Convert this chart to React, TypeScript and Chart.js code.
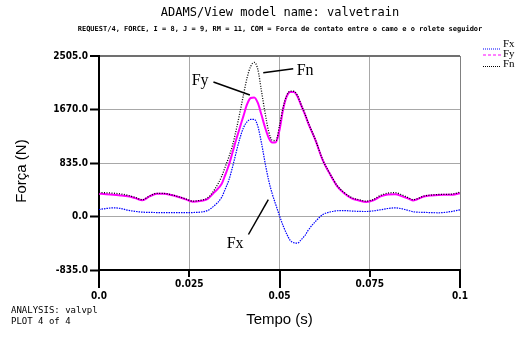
import React, { useEffect, useRef } from 'react';
import { Chart, registerables } from 'chart.js';
Chart.register(...registerables);

const times = [
  0.000, 0.002, 0.004, 0.006, 0.008, 0.010, 0.012, 0.014, 0.016, 0.018, 0.020, 0.022, 0.024, 0.026, 0.028, 0.030, 0.032, 0.034,
  0.035, 0.036, 0.037, 0.038, 0.039, 0.040, 0.041, 0.042, 0.043, 0.044, 0.045, 0.046, 0.047, 0.048, 0.049, 0.050, 0.051, 0.052, 0.053, 0.054, 0.055, 0.056, 0.057, 0.058,
  0.060, 0.062, 0.064, 0.066, 0.068, 0.070, 0.072, 0.074, 0.076, 0.078, 0.080, 0.082, 0.084, 0.086, 0.087, 0.088, 0.090, 0.092, 0.094, 0.096, 0.098, 0.100,
];

const fxValues = [
  109, 125, 135, 125, 98, 80, 68, 64, 62, 62, 62, 62, 60, 62, 68, 92, 172, 302,
  433, 573, 775, 1002, 1215, 1383, 1478, 1516, 1516, 1409, 1150, 840, 563, 351, 180, 12, -144, -273, -375, -410, -415, -362, -300, -211,
  -75, 30, 70, 90, 92, 85, 80, 78, 88, 105, 125, 135, 120, 90, 75, 68, 65, 60, 58, 65, 82, 105,
];

const fyValues = [
  356, 348, 338, 329, 315, 287, 253, 313, 357, 355, 334, 304, 268, 232, 243, 270, 383, 510,
  655, 807, 1002, 1201, 1385, 1566, 1749, 1850, 1858, 1772, 1587, 1390, 1229, 1155, 1160, 1348, 1672, 1875, 1945, 1945, 1872, 1735, 1600, 1450,
  1185, 875, 660, 470, 358, 282, 250, 227, 251, 313, 342, 347, 314, 272, 251, 266, 311, 329, 337, 338, 341, 364,
];

const fnValues = [
  372, 370, 364, 352, 330, 298, 262, 320, 362, 360, 340, 310, 275, 240, 252, 286, 420, 629,
  781, 932, 1113, 1349, 1613, 1892, 2160, 2341, 2405, 2295, 1960, 1620, 1327, 1190, 1185, 1417, 1702, 1890, 1958, 1955, 1885, 1745, 1610, 1460,
  1190, 880, 666, 480, 370, 295, 262, 240, 265, 330, 365, 372, 335, 285, 262, 275, 318, 335, 343, 345, 352, 379,
];

const yMin = -835;
const yMax = 2505;
const yStep = 835;
const xTickLabels = ['0.0', '0.025', '0.05', '0.075', '0.1'];
const seriesNames = ['Fx', 'Fy', 'Fn'];

const titleText = 'ADAMS/View model name: valvetrain';
const subtitleText = 'REQUEST/4, FORCE, I = 8, J = 9, RM = 11, COM = Forca de contato entre o camo e o rolete seguidor';
const footerLines = ['ANALYSIS: valvpl', 'PLOT 4 of 4'];
const xTitle = 'Tempo (s)';
const yTitle = 'Força (N)';

// annotation labels placed in data coordinates
const annotations = [
  { text: 'Fy', tx: 0.0280, ty: 2123, x1: 0.0317, y1: 2099, x2: 0.0418, y2: 1896 },
  { text: 'Fn', tx: 0.0571, ty: 2279, x1: 0.0455, y1: 2243, x2: 0.0538, y2: 2305 },
  { text: 'Fx', tx: 0.0377, ty: -421, x1: 0.0414, y1: -281, x2: 0.0469, y2: 265 },
];

const tickFont = { family: '"DejaVu Sans Condensed", "DejaVu Sans", sans-serif', size: 10, weight: 'bold' as const };

const overlayPlugin = {
  id: 'overlay',
  afterDraw(chart: any) {
    const ctx = chart.ctx as CanvasRenderingContext2D;
    const xs = chart.scales.x;
    const ys = chart.scales.y;
    const area = chart.chartArea;
    ctx.save();

    // x tick marks (alternating lengths)
    ctx.strokeStyle = '#000';
    ctx.lineWidth = 2;
    xs.ticks.forEach((t: any, i: number) => {
      const px = Math.round(xs.getPixelForValue(t.value));
      const len = i % 2 === 0 ? 18 : 7;
      ctx.beginPath();
      ctx.moveTo(px, area.bottom);
      ctx.lineTo(px, area.bottom + len);
      ctx.stroke();
    });

    ctx.fillStyle = '#000';
    // title
    ctx.textAlign = 'center';
    ctx.textBaseline = 'middle';
    ctx.font = '12px "DejaVu Sans Mono", monospace';
    ctx.fillText(titleText, 280, 13);
    ctx.font = 'bold 7px "DejaVu Sans Mono", monospace';
    ctx.fillText(subtitleText, 280, 29.5);

    // footer
    ctx.textAlign = 'left';
    ctx.font = '9px "DejaVu Sans Mono", monospace';
    footerLines.forEach((l, i) => ctx.fillText(l, 11, 311 + i * 11));

    // axis titles
    ctx.font = '15px "Liberation Sans", Arial, sans-serif';
    ctx.textAlign = 'center';
    ctx.fillText(xTitle, (area.left + area.right) / 2, 320);
    ctx.save();
    ctx.translate(22, 171);
    ctx.rotate(-Math.PI / 2);
    ctx.fillText(yTitle, 0, 0);
    ctx.restore();

    // legend
    const ds = chart.data.datasets;
    const legendY = [[44, 49], [54.5, 55], [64.5, 66.5]];
    ctx.font = '11px "Liberation Serif", "Times New Roman", serif';
    ctx.textAlign = 'left';
    seriesNames.forEach((name, i) => {
      const d = ds.find((q: any) => q.label === name);
      ctx.save();
      ctx.strokeStyle = d.borderColor;
      ctx.lineWidth = 1;
      ctx.setLineDash(name === 'Fy' ? [3, 2] : [1, 1]);
      ctx.beginPath();
      ctx.moveTo(483, legendY[i][1]);
      ctx.lineTo(501, legendY[i][1]);
      ctx.stroke();
      ctx.restore();
      ctx.fillStyle = '#000';
      ctx.fillText(name, 503, legendY[i][0]);
    });

    // annotations
    ctx.font = '16px "Liberation Serif", "Times New Roman", serif';
    ctx.textAlign = 'center';
    ctx.strokeStyle = '#000';
    ctx.lineWidth = 1.5;
    annotations.forEach((a) => {
      ctx.fillText(a.text, xs.getPixelForValue(a.tx), ys.getPixelForValue(a.ty));
      ctx.beginPath();
      ctx.moveTo(xs.getPixelForValue(a.x1), ys.getPixelForValue(a.y1));
      ctx.lineTo(xs.getPixelForValue(a.x2), ys.getPixelForValue(a.y2));
      ctx.stroke();
    });

    ctx.restore();
  },
};

export default function App() {
  const ref = useRef<HTMLCanvasElement | null>(null);
  useEffect(() => {
    if (!ref.current) return;
    const mk = (vals: number[]) => times.map((t, i) => ({ x: t, y: vals[i] }));
    const chart = new Chart(ref.current, {
      type: 'line',
      data: {
        datasets: [
          { label: 'Fn', data: mk(fnValues), borderColor: '#000000', borderWidth: 1.3, borderDash: [1, 1.5], pointRadius: 0, cubicInterpolationMode: 'monotone', order: 0 },
          { label: 'Fx', data: mk(fxValues), borderColor: '#0000ff', borderWidth: 1.2, borderDash: [1.5, 1], pointRadius: 0, cubicInterpolationMode: 'monotone', order: 1 },
          { label: 'Fy', data: mk(fyValues), borderColor: '#ff00ff', borderWidth: 2, pointRadius: 0, cubicInterpolationMode: 'monotone', order: 2 },
        ],
      },
      options: {
        animation: false,
        responsive: false,
        layout: { padding: { top: 56, right: 63, left: 0, bottom: 0 } },
        plugins: { legend: { display: false }, title: { display: false }, tooltip: { enabled: false } },
        scales: {
          x: {
            type: 'linear',
            min: 0,
            max: 0.1,
            afterFit: (s: any) => { s.height = 72; },
            afterBuildTicks: (s: any) => {
              s.ticks = xTickLabels.map((_, i) => ({ value: i * 0.025 }));
            },
            ticks: {
              font: tickFont,
              color: '#000',
              padding: 8,
              maxRotation: 0,
              autoSkip: false,
              callback: (_v: any, i: number) => (i % 2 === 0 ? ['', xTickLabels[i]] : [xTickLabels[i]]),
            },
            grid: {
              drawTicks: false,
              color: (c: any) => (c.index === xTickLabels.length - 1 ? '#808080' : '#a8a8a8'),
              lineWidth: 1,
            },
            border: { color: '#000', width: 2 },
          },
          y: {
            min: yMin,
            max: yMax,
            afterFit: (s: any) => { s.width = 99; },
            ticks: {
              stepSize: yStep,
              font: tickFont,
              color: '#000',
              padding: 2,
              callback: (v: any) => Number(v).toFixed(1),
            },
            grid: {
              drawTicks: true,
              tickLength: 9,
              tickColor: '#000',
              tickWidth: 2,
              color: (c: any) => (c.tick && c.tick.value === yMax ? '#707070' : '#a8a8a8'),
              lineWidth: (c: any) => (c.tick && c.tick.value === yMax ? 2 : 1),
            },
            border: { color: '#000', width: 2 },
          },
        },
      },
      plugins: [overlayPlugin],
    });
    return () => chart.destroy();
  }, []);
  return (
    <div style={{ position: 'absolute', left: 0, top: 0, width: 523, height: 342, background: '#fff' }}>
      <canvas ref={ref} width={523} height={342} style={{ display: 'block' }} />
    </div>
  );
}
